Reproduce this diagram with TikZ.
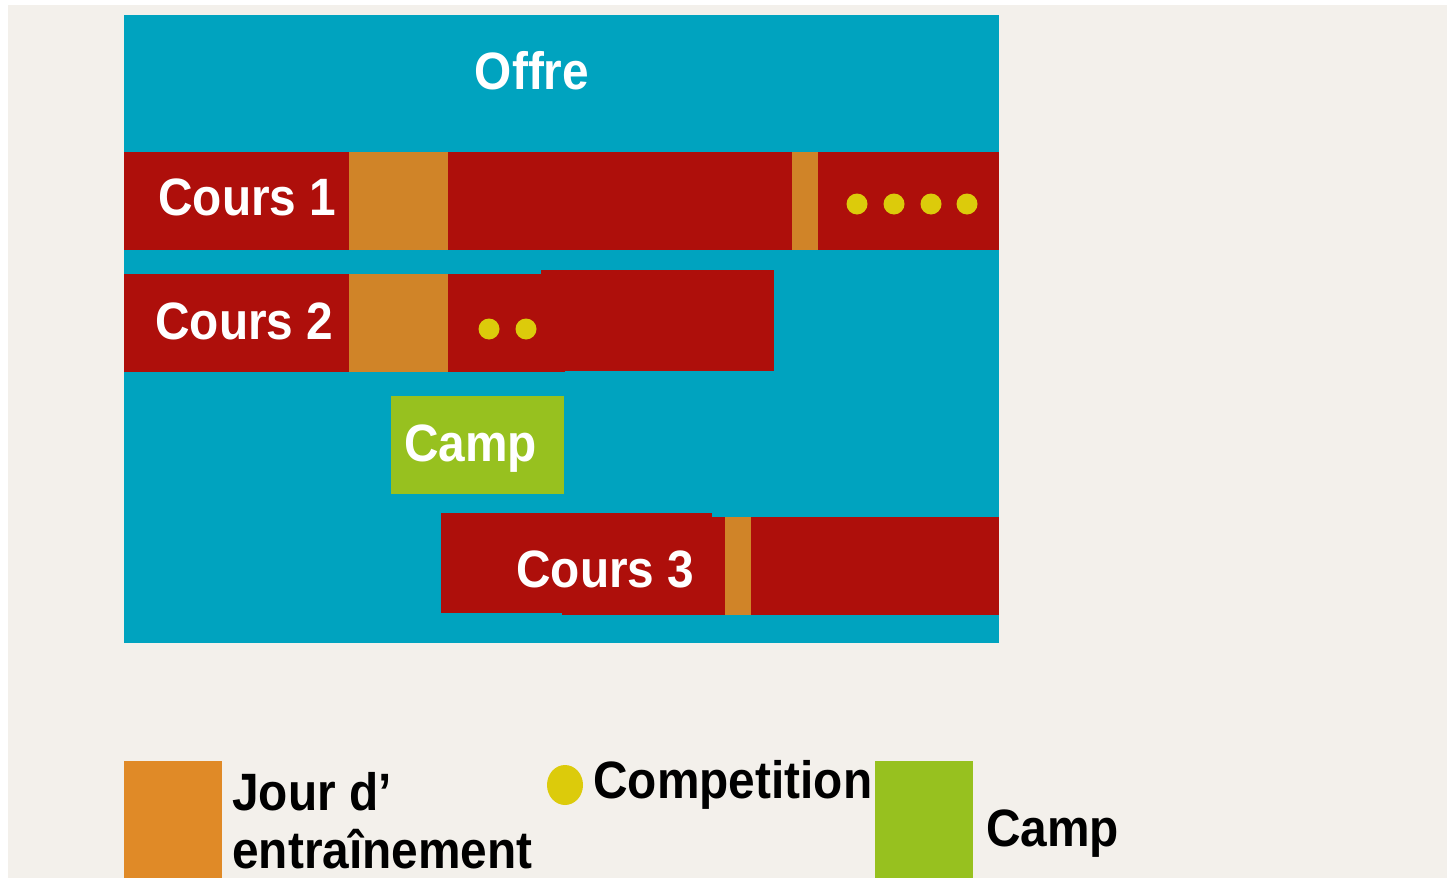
\documentclass[tikz,border=0pt]{standalone}
\usepackage{fontspec}
\usepackage{graphicx}
\setmainfont{Liberation Sans}
\definecolor{bgbeige}{HTML}{F3F0EB}
\definecolor{offblue}{HTML}{00A3BF}
\definecolor{rowred}{HTML}{AE0F0B}
\definecolor{roworange}{HTML}{D08428}
\definecolor{legorange}{HTML}{E08A27}
\definecolor{compyellow}{HTML}{DCCB0B}
\definecolor{campgreen}{HTML}{97C11F}
\newcommand{\stretchtxt}[1]{\scalebox{1}[1.1]{#1}}
\tikzset{
  lbl/.style={inner sep=0pt, font=\fontsize{23.9pt}{28pt}\selectfont\bfseries},
  wlbl/.style={lbl, text=white},
  blbl/.style={lbl, text=black},
  dotc/.style={fill=compyellow, draw=none}
}
\begin{document}
\begin{tikzpicture}[x=0.5pt,y=-0.5pt]
\useasboundingbox (0,0) rectangle (1447,878);
\fill[white] (0,0) rectangle (1447,878);
\fill[bgbeige] (8,5) rectangle (1447,878);
% main offer area
\fill[offblue] (124,15) rectangle (999,643);
\node[wlbl, anchor=base] (offre) at (532,89) {\stretchtxt{Offre}};
% Cours 1
\fill[rowred] (124,152) rectangle (999,250);
\fill[roworange] (349,152) rectangle (448,250);
\fill[roworange] (792,152) rectangle (818,250);
\foreach \cx [count=\i] in {857,894,931,967}
  \fill[dotc] (\cx,204) circle [radius=10.5];
\node[wlbl, anchor=base west] (c1) at (158,215) {\stretchtxt{Cours 1}};
% Cours 2
\fill[rowred] (124,274) rectangle (565,372);
\fill[rowred] (541,270) rectangle (774,370.5);
\fill[roworange] (349,274) rectangle (448,372);
\foreach \cx in {489,526}
  \fill[dotc] (\cx,329) circle [radius=10.5];
\node[wlbl, anchor=base west] (c2) at (155,339) {\stretchtxt{Cours 2}};
% Camp
\fill[campgreen] (391,396) rectangle (564,494);
\node[wlbl, anchor=base west] (camp) at (404,461) {\stretchtxt{Camp}};
% Cours 3
\fill[rowred] (562,517) rectangle (999,615);
\fill[rowred] (441,513) rectangle (712,613);
\fill[roworange] (725,517) rectangle (751,615);
\node[wlbl, anchor=base west] (c3) at (516,587) {\stretchtxt{Cours 3}};
% legend
\fill[legorange] (124,761) rectangle (222,878);
\node[blbl, anchor=base west] (lj1) at (232,810) {\stretchtxt{Jour d’}};
\node[blbl, anchor=base west] (lj2) at (232,868) {\stretchtxt{entraînement}};
\fill[dotc] (565,785) ellipse [x radius=18, y radius=20];
\node[blbl, anchor=base west] (lcomp) at (593,798) {\stretchtxt{Competition}};
\fill[campgreen] (875,761) rectangle (973,878);
\node[blbl, anchor=base west] (lcamp) at (986,846) {\stretchtxt{Camp}};
\end{tikzpicture}
\end{document}
